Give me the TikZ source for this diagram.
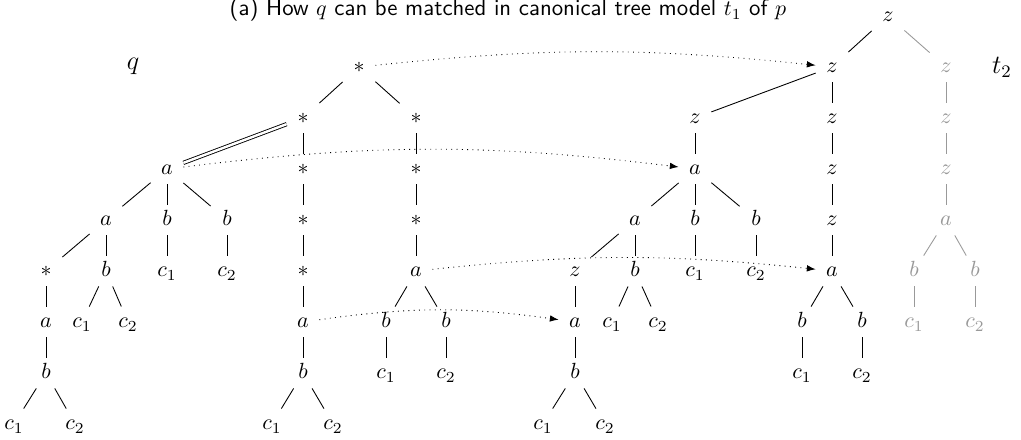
\documentclass[tikz,border=0pt]{standalone}
\usepackage{amsmath,amssymb}
\usepackage{xcolor}
\usepackage{tikz}
\usetikzlibrary{arrows.meta,positioning}

\tikzset{
  lbl/.style={inner sep=0pt, minimum width=0.51cm, minimum height=0.48cm,
    text height=1.5ex, text depth=.25ex},
  ghost/.style={black!40},
  desc/.style={double, double distance=1.1pt},
  match/.style={dotted, -{Latex[length=4pt,width=3pt]}},
}

\begin{document}
\begin{tikzpicture}[x=0.016cm, y=-0.016cm]
  \useasboundingbox (0,0) rectangle (1021,440);
  % Caption
  \node[anchor=base, font=\sffamily\fontsize{10.4}{12}\selectfont] (cap) at (508,16)
    {(a) How $q$ can be matched in canonical tree model $t_1$ of $p$};
  \node[font=\large] (lq) at (133,66) {$q$};
  \node[font=\large] (lt) at (1002,67) {$t_2$};

  % Pattern q: root and two star branches
  \node[lbl] (qs) at (359,67) {$*$};
  \node[lbl] (qs1) at (303,118) {$*$};
  \node[lbl] (qs2) at (416,118) {$*$};
  \node[lbl] (qs11) at (303,169) {$*$};
  \node[lbl] (qs12) at (303,220) {$*$};
  \node[lbl] (qs13) at (303,271) {$*$};
  \node[lbl] (qa1) at (303,322) {$a$};
  \node[lbl] (qb1) at (303,373) {$b$};
  \node[lbl] (qc11) at (272,424) {$c_1$};
  \node[lbl] (qc12) at (333,424) {$c_2$};
  \node[lbl] (qs21) at (416,169) {$*$};
  \node[lbl] (qs22) at (416,220) {$*$};
  \node[lbl] (qa2) at (416,271) {$a$};
  \node[lbl] (qb21) at (386,322) {$b$};
  \node[lbl] (qb22) at (446,322) {$b$};
  \node[lbl] (qc21) at (386,373) {$c_1$};
  \node[lbl] (qc22) at (446,373) {$c_2$};

  % Pattern q: descendant branch
  \node[lbl] (qa) at (167,169) {$a$};
  \node[lbl] (qaa) at (106,220) {$a$};
  \node[lbl] (qab1) at (167,220) {$b$};
  \node[lbl] (qab2) at (227,220) {$b$};
  \node[lbl] (qac1) at (167,271) {$c_1$};
  \node[lbl] (qac2) at (227,271) {$c_2$};
  \node[lbl] (qas) at (46,271) {$*$};
  \node[lbl] (qaab) at (106,271) {$b$};
  \node[lbl] (qaac1) at (82,322) {$c_1$};
  \node[lbl] (qaac2) at (128,322) {$c_2$};
  \node[lbl] (qasa) at (46,322) {$a$};
  \node[lbl] (qasb) at (46,373) {$b$};
  \node[lbl] (qasc1) at (14,424) {$c_1$};
  \node[lbl] (qasc2) at (75,424) {$c_2$};

  % Tree t2: top and right chain
  \node[lbl] (tz) at (888,16) {$z$};
  \node[lbl] (tzl) at (832,67) {$z$};
  \node[lbl] (tzm) at (695,118) {$z$};
  \node[lbl] (tzl2) at (832,118) {$z$};
  \node[lbl] (tz3) at (832,169) {$z$};
  \node[lbl] (tz4) at (832,220) {$z$};
  \node[lbl] (ta) at (832,271) {$a$};
  \node[lbl] (tb1) at (802,322) {$b$};
  \node[lbl] (tb2) at (862,322) {$b$};
  \node[lbl] (tc1) at (802,373) {$c_1$};
  \node[lbl] (tc2) at (862,373) {$c_2$};

  % Tree t2: middle part
  \node[lbl] (tma) at (695,169) {$a$};
  \node[lbl] (tmaa) at (635,220) {$a$};
  \node[lbl] (tmb1) at (695,220) {$b$};
  \node[lbl] (tmb2) at (756,220) {$b$};
  \node[lbl] (tmc1) at (695,271) {$c_1$};
  \node[lbl] (tmc2) at (756,271) {$c_2$};
  \node[lbl] (tmz) at (575,271) {$z$};
  \node[lbl] (tmab) at (635,271) {$b$};
  \node[lbl] (tmabc1) at (612,322) {$c_1$};
  \node[lbl] (tmabc2) at (658,322) {$c_2$};
  \node[lbl] (tmza) at (575,322) {$a$};
  \node[lbl] (tmzb) at (575,373) {$b$};
  \node[lbl] (tmzc1) at (543,424) {$c_1$};
  \node[lbl] (tmzc2) at (605,424) {$c_2$};

  % Tree t2: unmatched part (grey)
  \node[lbl, ghost] (tzr) at (946,67) {$z$};
  \node[lbl, ghost] (tg2) at (946,118) {$z$};
  \node[lbl, ghost] (tg3) at (946,169) {$z$};
  \node[lbl, ghost] (tga) at (946,220) {$a$};
  \node[lbl, ghost] (tgb1) at (914,271) {$b$};
  \node[lbl, ghost] (tgb2) at (975,271) {$b$};
  \node[lbl, ghost] (tgc1) at (914,322) {$c_1$};
  \node[lbl, ghost] (tgc2) at (975,322) {$c_2$};

  % Edges
  \foreach \p/\c in {qs/qs1, qs/qs2, qs1/qs11, qs11/qs12, qs12/qs13, qs13/qa1,
      qa1/qb1, qb1/qc11, qb1/qc12, qs2/qs21, qs21/qs22, qs22/qa2, qa2/qb21,
      qa2/qb22, qb21/qc21, qb22/qc22,
      qa/qaa, qa/qab1, qa/qab2, qab1/qac1, qab2/qac2, qaa/qas, qaa/qaab,
      qaab/qaac1, qaab/qaac2, qas/qasa, qasa/qasb, qasb/qasc1, qasb/qasc2,
      tz/tzl, tzl/tzm, tzl/tzl2, tzl2/tz3, tz3/tz4, tz4/ta, ta/tb1, ta/tb2,
      tb1/tc1, tb2/tc2,
      tzm/tma, tma/tmaa, tma/tmb1, tma/tmb2, tmb1/tmc1, tmb2/tmc2, tmaa/tmz,
      tmaa/tmab, tmab/tmabc1, tmab/tmabc2, tmz/tmza, tmza/tmzb, tmzb/tmzc1,
      tmzb/tmzc2}
    \draw (\p) -- (\c);
  \foreach \p/\c in {tz/tzr, tzr/tg2, tg2/tg3, tg3/tga, tga/tgb1, tga/tgb2,
      tgb1/tgc1, tgb2/tgc2}
    \draw[ghost] (\p) -- (\c);
  % Descendant edge
  \draw[desc] (qs1) -- (qa);

  % Matching
  \draw[match] (qs) to[bend left=6] (tzl);
  \draw[match] (qa) to[bend left=7] (tma);
  \draw[match] (qa2) to[bend left=6] (ta);
  \draw[match] (qa1) to[bend left=8] (tmza);
\end{tikzpicture}
\end{document}
